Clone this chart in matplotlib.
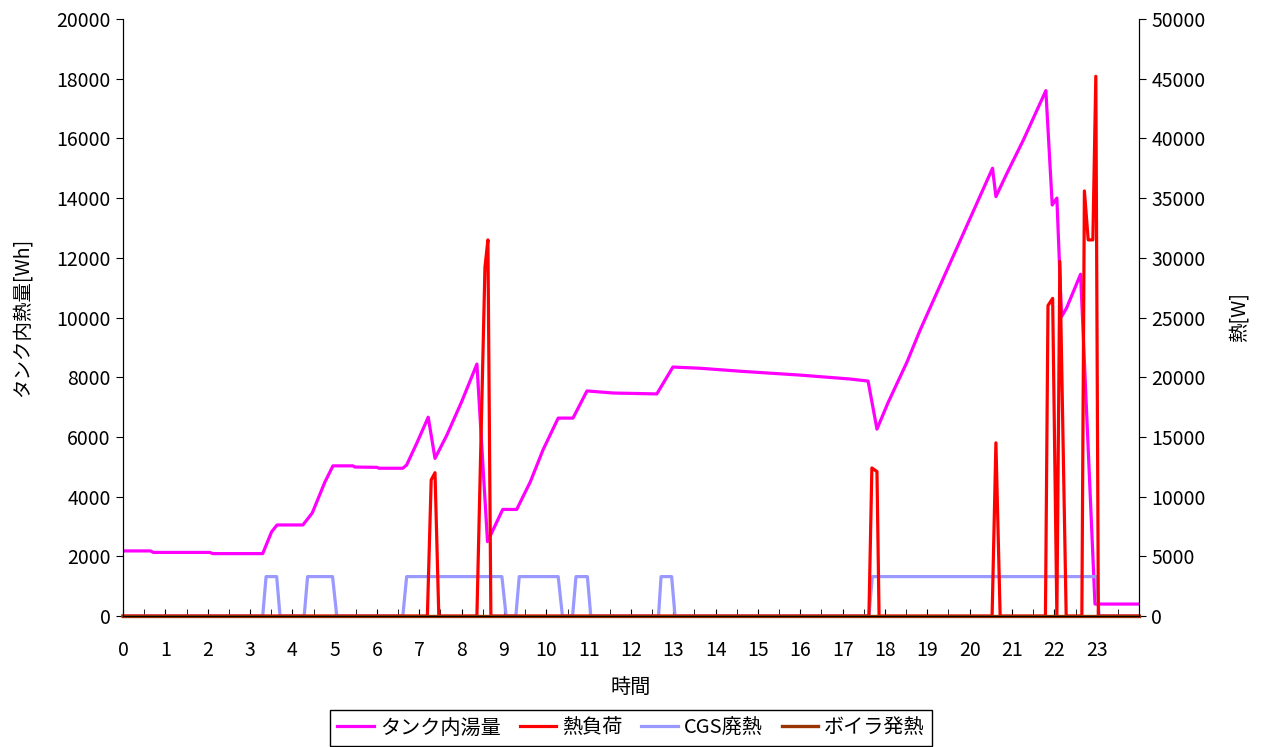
import matplotlib
matplotlib.use("Agg")
import matplotlib.pyplot as plt
from matplotlib.ticker import MultipleLocator

plt.rcParams['font.family'] = ['Noto Sans CJK JP', 'DejaVu Sans']

# タンク内湯量 [Wh] (left axis), time in hours
tank_t = [0, 0.65, 0.72, 2.05, 2.12, 3.30, 3.51, 3.64, 4.25, 4.47, 4.77, 4.96,
          5.43, 5.48, 6.0, 6.05, 6.61, 6.70, 6.94, 7.21, 7.37, 7.65, 8.0, 8.36,
          8.61, 8.97, 9.30, 9.62, 9.92, 10.28, 10.63, 10.96, 11.58, 12.61, 12.99,
          13.63, 14.58, 16.0, 17.17, 17.6, 17.81, 18.07, 18.52, 18.83, 20.54,
          20.62, 20.88, 21.27, 21.80, 21.95, 22.06, 22.17, 22.29, 22.62, 22.96, 24]
tank_v = [2180, 2180, 2130, 2130, 2090, 2090, 2820, 3050, 3050, 3450, 4490, 5030,
          5030, 4990, 4980, 4950, 4950, 5060, 5790, 6660, 5280, 6060, 7180, 8440,
          2490, 3570, 3570, 4490, 5560, 6630, 6630, 7540, 7470, 7440, 8340,
          8300, 8200, 8070, 7940, 7870, 6260, 7140, 8510, 9580, 15000,
          14050, 14830, 15950, 17600, 13770, 14000, 10030, 10320, 11450, 400, 400]

# 熱負荷 [W] (right axis)
load_t = [0, 7.19, 7.28, 7.37, 7.46, 8.36, 8.55, 8.62, 8.69, 17.62, 17.69, 17.81,
          17.86, 20.53, 20.62, 20.72, 21.79, 21.85, 21.96, 22.06, 22.13, 22.28,
          22.65, 22.71, 22.80, 22.91, 22.98, 23.04, 24]
load_v = [0, 0, 11400, 12000, 0, 0, 29200, 31500, 0, 0, 12400, 12100,
          0, 0, 14500, 0, 0, 26000, 26600, 0, 29700, 0,
          0, 35600, 31500, 31500, 45200, 0, 0]

# CGS廃熱 [W]
cgs_t = [0, 3.30, 3.38, 3.63, 3.71, 4.28, 4.36, 4.95, 5.05, 6.61, 6.70, 8.95, 9.05,
         9.28, 9.36, 10.28, 10.38, 10.62, 10.70, 10.97, 11.05, 12.65, 12.71, 12.96,
         13.04, 17.62, 17.70, 22.99, 23.06, 24]
cgs_v = [0, 0, 3300, 3300, 0, 0, 3300, 3300, 0, 0, 3300, 3300, 0,
         0, 3300, 3300, 0, 0, 3300, 3300, 0, 0, 3300, 3300,
         0, 0, 3300, 3300, 0, 0]

# ボイラ発熱 [W]
boiler_t = [0, 24]
boiler_v = [0, 0]

hour_labels = ['0', '1', '2', '3', '4', '5', '6', '7', '8', '9', '10', '11',
               '12', '13', '14', '15', '16', '17', '18', '19', '20', '21', '22', '23']

fig = plt.figure(figsize=(12.61, 7.47), dpi=100)
ax = fig.add_axes([123 / 1261, 1 - 616 / 747, 1016 / 1261, 597 / 747])
ax2 = ax.twinx()

l1, = ax.plot(tank_t, tank_v, color='#FF00FF', lw=2.3)
l3, = ax2.plot(cgs_t, cgs_v, color='#9999FF', lw=2.3, clip_on=False)
l2, = ax2.plot(load_t, load_v, color='#FF0000', lw=2.3, clip_on=False)
l4, = ax2.plot(boiler_t, boiler_v, color='#993300', lw=2.4, clip_on=False)

ax.set_xlim(0, 24)
ax.set_ylim(0, 20000)
ax2.set_ylim(0, 50000)
ax.set_yticks(range(0, 20001, 2000))
ax2.set_yticks(range(0, 50001, 5000))
ax.set_xticks(range(24))
ax.set_xticklabels(hour_labels)
ax.xaxis.set_minor_locator(MultipleLocator(0.5))

fs = 14
ax.tick_params(axis='y', direction='out', length=5, labelsize=fs, pad=4)
ax2.tick_params(axis='y', direction='out', length=5, labelsize=fs, pad=4)
ax.tick_params(axis='x', which='both', direction='in', length=5, labelsize=fs, pad=17)

for a in (ax, ax2):
    a.spines['top'].set_visible(False)

ax.set_ylabel('タンク内熱量[Wh]', fontsize=fs)
ax.yaxis.set_label_coords(-0.0886, 0.5)
ax2.set_ylabel('熱[W]', fontsize=fs)
ax2.yaxis.set_label_coords(1.0885, 0.5)
ax.set_xlabel('時間', fontsize=fs + 0.5)
ax.xaxis.set_label_coords(0.5, -0.1022)

leg = fig.legend([l1, l2, l3, l4], ['タンク内湯量', '熱負荷', 'CGS廃熱', 'ボイラ発熱'],
                 loc='center', bbox_to_anchor=(631 / 1261, 1 - 728 / 747), ncol=4,
                 fontsize=14.5, frameon=True, fancybox=False, edgecolor='black',
                 framealpha=1, handlelength=1.8, handletextpad=0.3,
                 columnspacing=0.95, borderpad=0.35)
leg.get_frame().set_linewidth(1.0)

fig.savefig('out.png', dpi=100)
